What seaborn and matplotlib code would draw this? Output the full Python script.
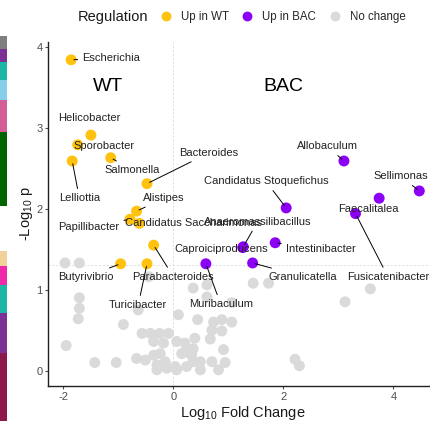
import numpy as np
import pandas as pd
import matplotlib
matplotlib.use("Agg")
import matplotlib.pyplot as plt
from matplotlib.patches import Rectangle
import seaborn as sns

# ---------------- data ----------------
wt_names = ["Escherichia", "Helicobacter", "Sporobacter", "Lelliottia", "Salmonella",
            "Bacteroides", "Alistipes", "Papillibacter", "Candidatus Saccharimonas",
            "Parabacteroides", "Butyrivibrio", "Turicibacter"]
wt_fc = [-1.86, -1.50, -1.74, -1.84, -1.14, -0.48, -0.67, -0.79, -0.62, -0.36, -0.96, -0.48]
wt_p = [3.84, 2.91, 2.79, 2.59, 2.63, 2.31, 1.97, 1.87, 1.82, 1.55, 1.32, 1.32]

bac_names = ["Allobaculum", "Sellimonas", "Faecalitalea", "Fusicatenibacter",
             "Candidatus Stoquefichus", "Intestinibacter", "Granulicatella",
             "Anaeromassilibacillus", "Caproiciproducens", "Muribaculum"]
bac_fc = [3.10, 4.47, 3.74, 3.31, 2.05, 1.85, 1.44, 1.27, 1.26, 0.59]
bac_p = [2.59, 2.22, 2.13, 1.94, 2.01, 1.58, 1.33, 1.53, 1.52, 1.32]

ns_fc = [-1.97, -1.71, -1.95, -1.71, -1.71, -1.73, -1.43, -1.04, -0.91, -0.64, -0.45,
         -0.57, -0.42, -0.25, -0.09,
         -0.36, -0.18, 0.06, 0.21, 0.39, 0.21, 0.36,
         -0.67, -0.51, -0.36, -0.24, -0.15, -0.30, -0.30, -0.12, 0.03,
         0.15, 0.33, 0.36, 0.49, 0.24, 0.06, 0.70, 0.94, 0.82, 0.49,
         0.09, 0.36, 0.61, 0.61, 0.44, 0.73, 0.88, 1.06, 1.06, 0.70, 0.88, 0.67, 0.91,
         1.45, 1.73, 3.58, 3.12, 2.21, 2.29]
ns_p = [1.33, 1.33, 0.31, 0.90, 0.77, 0.64, 0.10, 0.10, 0.57, 0.75, 1.16,
        0.46, 0.46, 0.46, 0.46,
        0.36, 0.34, 0.36, 0.34, 0.40, 0.23, 0.27,
        0.15, 0.13, 0.19, 0.21, 0.11, 0.07, 0.01, 0.03, 0.05,
        0.21, 0.19, 0.11, 0.11, 0.05, 0.01, 0.11, 0.10, 0.01, 0.01,
        0.69, 1.02, 1.06, 0.91, 0.63, 0.60, 0.63, 0.84, 0.60, 0.50, 0.49, 0.39, 0.26,
        1.08, 1.08, 1.01, 0.85, 0.14, 0.06]

regulation_levels = ["Up in WT", "Up in BAC", "No change"]
palette = {"Up in WT": "#FFC20E", "Up in BAC": "#8C00F5", "No change": "#DADADA"}

# label positions (data coords) and whether a connector is drawn
label_pos = {
    "Escherichia": (-1.13, 3.86, True),
    "Helicobacter": (-1.53, 3.12, False),
    "Sporobacter": (-1.26, 2.78, False),
    "Lelliottia": (-1.71, 2.13, True),
    "Salmonella": (-0.75, 2.48, True),
    "Bacteroides": (0.65, 2.69, True),
    "Alistipes": (-0.17, 2.13, True),
    "Papillibacter": (-1.54, 1.78, True),
    "Candidatus Saccharimonas": (0.36, 1.82, False),
    "Parabacteroides": (0.00, 1.16, True),
    "Butyrivibrio": (-1.59, 1.16, True),
    "Turicibacter": (-0.64, 0.81, True),
    "Allobaculum": (2.80, 2.77, True),
    "Sellimonas": (4.13, 2.40, True),
    "Faecalitalea": (3.55, 2.00, False),
    "Fusicatenibacter": (3.90, 1.16, True),
    "Candidatus Stoquefichus": (1.68, 2.34, True),
    "Intestinibacter": (2.68, 1.50, True),
    "Granulicatella": (2.36, 1.16, True),
    "Anaeromassilibacillus": (1.53, 1.84, True),
    "Caproiciproducens": (0.86, 1.50, False),
    "Muribaculum": (0.86, 0.82, True),
}

df = pd.DataFrame({
    "name": wt_names + bac_names + [""] * len(ns_fc),
    "fc": wt_fc + bac_fc + ns_fc,
    "p": wt_p + bac_p + ns_p,
    "Regulation": ["Up in WT"] * len(wt_fc) + ["Up in BAC"] * len(bac_fc) + ["No change"] * len(ns_fc),
})
# draw grey first, then coloured
df["order"] = df["Regulation"].map({"No change": 0, "Up in WT": 1, "Up in BAC": 1})
df = df.sort_values("order", kind="stable")

# ---------------- figure ----------------
sns.set_theme(style="ticks")
plt.rcParams["font.family"] = ["Liberation Sans", "DejaVu Sans"]
plt.rcParams["mathtext.fontset"] = "custom"
plt.rcParams["mathtext.rm"] = "Liberation Sans"
plt.rcParams["mathtext.it"] = "Liberation Sans"
plt.rcParams["axes.unicode_minus"] = False

fig = plt.figure(figsize=(4.30, 4.21), dpi=100)
fig.patch.set_facecolor("white")
ax = fig.add_axes([48 / 430, 35 / 421, (438 - 48) / 430, (386 - 42) / 421])
ax.set_facecolor("white")

# reference lines
ax.axhline(-np.log10(0.05), color="#DCDCDC", lw=0.7, ls=(0, (2, 2)), zorder=0)
ax.axvline(0, color="#DCDCDC", lw=0.7, ls=(0, (2, 2)), zorder=0)

sns.scatterplot(data=df, x="fc", y="p", hue="Regulation", hue_order=regulation_levels,
                palette=palette, s=62, linewidth=0, edgecolor="none", ax=ax, zorder=2)

# labels
for _, row in df[df["name"] != ""].iterrows():
    lx, ly, seg = label_pos[row["name"]]
    ax.annotate(row["name"], xy=(row["fc"], row["p"]), xytext=(lx, ly),
                ha="center", va="center", fontsize=8.0, color="#222222", zorder=4,
                arrowprops=dict(arrowstyle="-", color="black", lw=0.7,
                                shrinkA=1, shrinkB=2) if seg else None)

ax.text(-1.18, 3.51, "WT", ha="center", va="center", fontsize=14, color="black")
ax.text(2.00, 3.51, "BAC", ha="center", va="center", fontsize=14, color="black")

ax.set_xlim(-2.28, 4.81)
ax.set_ylim(-0.19, 4.06)
ax.set_xticks([-2, 0, 2, 4])
ax.set_yticks([0, 1, 2, 3, 4])
ax.tick_params(axis="both", colors="#4D4D4D", labelsize=8.0, length=2.5, width=0.8,
               pad=1.5, direction="out", top=False, right=False)
for lab in ax.get_xticklabels() + ax.get_yticklabels():
    lab.set_color("#4D4D4D")
ax.spines["top"].set_visible(False)
ax.spines["right"].set_visible(False)
ax.spines["left"].set_linewidth(1.0)
ax.spines["bottom"].set_linewidth(1.0)
ax.spines["left"].set_color("#222222")
ax.spines["bottom"].set_color("#222222")
ax.set_xlabel(r"Log$_{10}$ Fold Change", fontsize=10.5, color="#1A1A1A", labelpad=1.5)
ax.set_ylabel(r"-Log$_{10}$ p", fontsize=10.5, color="#1A1A1A", labelpad=0.8)

# legend on top
sns.move_legend(ax, "center left", bbox_to_anchor=(144 / 430, 1 - 17 / 421),
                bbox_transform=fig.transFigure, ncol=3, title=None, frameon=False,
                fontsize=8.3, handletextpad=0.3, columnspacing=0.6, markerscale=0.9)
fig.text(78 / 430, 1 - 17 / 421, "Regulation", ha="left", va="center",
         fontsize=10.5, color="#1A1A1A")

# cropped neighbour panel strip on the left edge
strip_colors = ["#7F7F7F", "#7B3294", "#1CB5A6", "#87CEEB", "#D45D96", "#006400",
                "#F2D29B", "#EE2AAB", "#1CB5A6", "#7B3294", "#8B1A4A"]
strip_bounds = [(36, 49), (49, 62), (62, 80), (80, 100), (100, 132), (132, 206),
                (251, 266), (266, 285), (285, 313), (313, 353), (353, 421)]
for c, (y0, y1) in zip(strip_colors, strip_bounds):
    fig.patches.append(Rectangle((0, 1 - y1 / 421), 7 / 430, (y1 - y0) / 421,
                                 transform=fig.transFigure, color=c, lw=0))

fig.savefig("out.png", dpi=100)
